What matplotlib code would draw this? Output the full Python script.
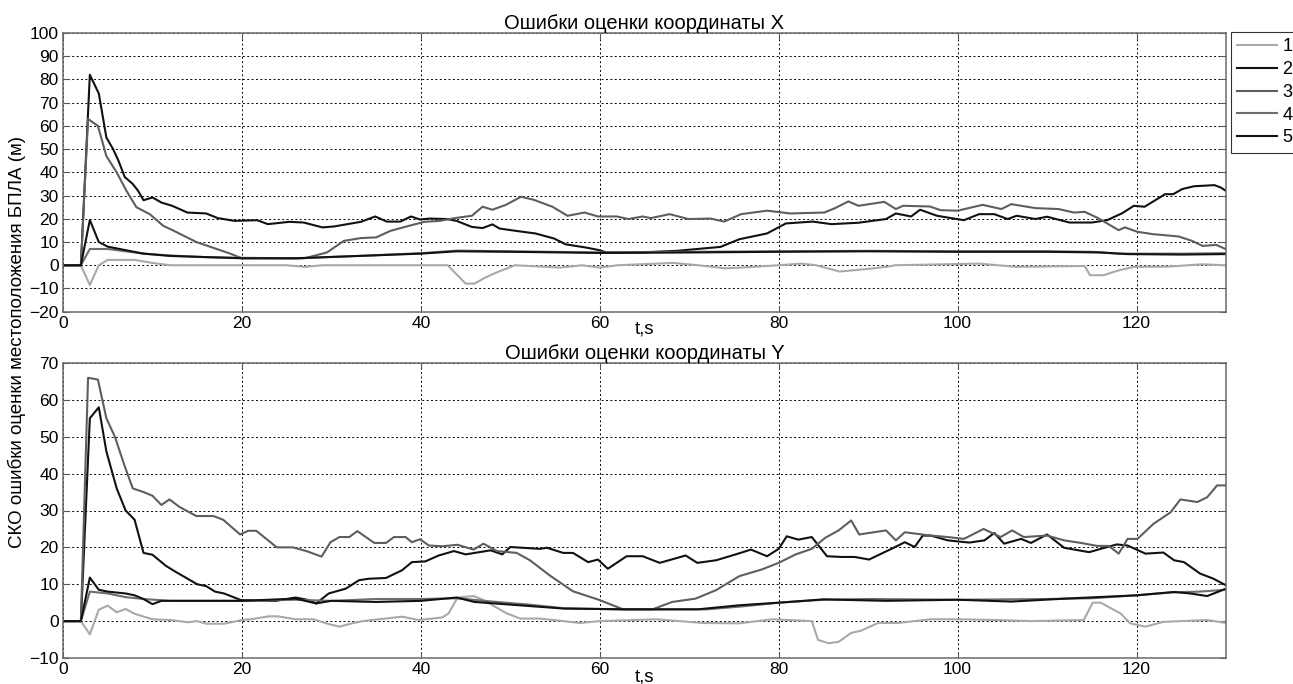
import matplotlib
matplotlib.use("Agg")
import matplotlib.pyplot as plt

plt.rcParams['font.family'] = ['Liberation Sans', 'DejaVu Sans']

# --- данные: (t, значение) ---
# координата X
x_s1 = [(0, 0), (2, 0), (3, -8.5), (4, 0), (5, 2.3), (8, 2.3), (10, 1), (12, 0), (25, 0), (27, -0.7),
        (29, 0), (43, 0), (45, -7.9), (46, -7.9), (47.2, -5.3), (48.4, -3.2), (50.5, 0), (55.6, -1),
        (58, 0), (60, -1), (62, 0), (68.2, 1), (71, 0), (74, -1.3), (75.8, -1), (80, 0), (82.5, 0.7),
        (84.2, 0), (86.8, -2.7), (89.7, -1.7), (92.2, -0.6), (93, 0), (102.4, 0.7), (106.6, -0.7),
        (114.2, -0.3), (114.8, -4.3), (116.3, -4.3), (118, -2.2), (119.7, -0.7), (123.5, -0.6),
        (127.3, 0.4), (130, 0)]
x_s2 = [(0, 0), (2, 0), (3, 82), (4, 74), (4.85, 55), (5.6, 50), (6.2, 45), (6.9, 38), (7.8, 35),
        (8.4, 32), (9, 28), (10, 29.2), (11, 27), (12.2, 25.6), (13.9, 22.7), (16, 22.3), (17.3, 20.3),
        (19.2, 19.1), (21.7, 19.4), (22.9, 17.7), (25.3, 18.7), (26.9, 18.4), (29, 16.3), (30.3, 16.7),
        (33.3, 18.7), (34.9, 21), (36.2, 18.8), (37.7, 18.8), (38.9, 21), (39.9, 19.7), (41, 20.1),
        (42.9, 19.9), (44, 19.1), (45.7, 16.5), (46.9, 16), (48, 17.6), (48.8, 15.8), (51.2, 14.5),
        (52.8, 13.7), (54.9, 11.5), (56.2, 9), (58.5, 7.6), (59.8, 6.6), (60.8, 5.5), (64.4, 5.5),
        (68.6, 6.2), (73.5, 7.9), (75.6, 11.2), (78.7, 13.7), (80.8, 18), (83.8, 18.8), (85.9, 17.7),
        (88.9, 18.3), (92, 19.9), (93.1, 22.3), (94.8, 21), (95.8, 23.9), (97.7, 21.3), (100.7, 19.4),
        (102.4, 22), (104.1, 22), (105.6, 19.9), (106.6, 21.3), (108.7, 19.9), (110, 20.9),
        (112.5, 18.4), (115, 18.4), (116.7, 19.4), (118.4, 22.4), (119.7, 25.6), (120.9, 25.2),
        (123.2, 30.6), (124.1, 30.6), (125.1, 32.8), (126.4, 34), (128.7, 34.5), (129.4, 33.5), (130, 32)]
x_s3 = [(0, 0), (2, 0), (2.8, 63), (3.9, 60), (4.85, 47), (6, 40), (7.1, 32), (8.2, 25), (9.7, 22),
        (11.2, 17), (12.3, 15), (14.9, 10), (16.8, 7.5), (18.7, 5), (20, 3), (25.3, 3), (27, 3),
        (29.5, 5.5), (31.4, 10.5), (33.3, 11.7), (35, 12), (36.6, 14.8), (38.7, 17), (40.4, 18.7),
        (42.1, 19.1), (43.8, 20.3), (45.7, 21.3), (46.9, 25.2), (48, 23.9), (49.5, 26), (51.2, 29.5),
        (52.6, 28.2), (54.7, 25.2), (56.4, 21.3), (58.3, 22.7), (59.8, 21), (61.9, 21), (63.2, 19.9),
        (64.8, 21), (65.7, 20.3), (67.8, 22), (69.9, 19.9), (72.4, 20.1), (73.9, 18.8), (75.8, 22),
        (78.7, 23.5), (81.3, 22.3), (85.1, 22.7), (86.3, 24.6), (87.8, 27.5), (88.9, 25.6),
        (91.8, 27.3), (93.1, 24.2), (93.9, 25.6), (96.9, 25.3), (98.1, 23.7), (100, 23.5), (102.8, 26),
        (104.9, 24.2), (106, 26.3), (108.7, 24.6), (111.3, 24.2), (113, 22.7), (114.2, 23),
        (115.7, 20.3), (118, 15.1), (118.7, 16.3), (120.1, 14.4), (121.8, 13.4), (124.7, 12.4),
        (126.2, 10.5), (127.4, 8.3), (128.9, 8.8), (130, 6.9)]
x_s4 = [(0, 0), (2, 0), (3, 7), (5, 7), (7, 6), (9, 5), (12, 4.2), (16, 3.5), (20, 3.2), (26, 3),
        (33, 4), (40, 5.2), (44, 6.3), (50, 6), (60, 5.5), (70, 5.8), (80, 6), (90, 6.2), (100, 6),
        (110, 6), (115, 5.8), (118, 5), (125, 5), (130, 5.2)]
x_s5 = [(0, 0), (2, 0), (3, 19.5), (4, 10), (5, 8), (7, 6.5), (9, 5), (12, 4), (16, 3.5), (20, 3),
        (26, 3), (33, 4), (40, 5), (44, 6), (50, 5.8), (60, 5.3), (70, 5.5), (80, 5.8), (90, 6),
        (100, 5.8), (110, 5.8), (116, 5.5), (119, 4.8), (125, 4.6), (130, 4.8)]

# координата Y
y_s1 = [(0, 0), (2, 0), (3, -3.6), (4, 3.1), (5, 4.2), (6, 2.4), (7, 3.3), (8, 2), (10, 0.5), (12, 0.3),
        (14, -0.3), (15, 0), (16, -0.7), (18, -0.7), (20, 0.3), (21, 0.5), (23, 1.3), (24, 1.3),
        (26, 0.5), (28, 0.5), (29.7, -0.8), (30.9, -1.5), (32.3, -0.6), (33.5, 0), (37.9, 1.2),
        (39.8, 0.3), (42.4, 1), (43.1, 2.1), (44.1, 6.4), (45.9, 6.8), (47, 5.7), (49.6, 2.1),
        (51.1, 0.7), (53.3, 0.7), (57.8, -0.5), (60, 0), (66.3, 0.5), (71.5, -0.5), (75.6, -0.6),
        (79.3, 0.5), (83.7, 0), (84.4, -5.1), (85.6, -6), (86.7, -5.6), (87, -5.1), (88.1, -3.2),
        (89.2, -2.6), (91.1, -0.5), (93.3, -0.5), (97, 0.5), (100, 0.5), (104.5, 0.3), (108.2, 0),
        (114.1, 0.3), (115.1, 5), (116, 5), (118.2, 2.1), (119.3, -0.6), (121, -1.5), (123, -0.2),
        (127.9, 0.3), (130, -0.5)]
y_s2 = [(0, 0), (2, 0), (3, 55), (4, 58), (4.85, 46), (6, 36), (7, 30), (8, 27.5), (9, 18.5), (10, 18),
        (11.5, 15), (12.5, 13.5), (15, 10), (16, 9.5), (17, 8), (18, 7.5), (19.9, 5.7), (23.8, 5.5),
        (26, 6.4), (27.5, 5.7), (28.3, 4.8), (29.7, 7.5), (31.6, 8.8), (33.1, 11.1), (34.2, 11.5),
        (36.1, 11.7), (37.9, 13.8), (39, 16), (40.5, 16.2), (42, 17.8), (43.7, 19), (45, 18.1),
        (47.8, 19.2), (49.1, 18.1), (50, 20.1), (53.3, 19.6), (54.1, 19.9), (55.9, 18.5), (57, 18.5),
        (58.7, 16), (59.8, 16.7), (60.9, 14.2), (63, 17.6), (64.8, 17.6), (66.7, 15.8), (69.6, 17.8),
        (70.9, 15.8), (73, 16.5), (75.2, 18.1), (76.9, 19.4), (78.7, 17.6), (80, 19.6), (80.9, 23),
        (82.2, 22.1), (83.7, 22.8), (85.4, 17.6), (87, 17.4), (88.5, 17.4), (90.1, 16.7), (92.6, 19.6),
        (94.1, 21.4), (95.2, 20.1), (96.1, 23.2), (97, 23.2), (98.9, 21.9), (101.3, 21.3), (103, 21.9),
        (104.1, 23.9), (105.2, 21), (107.1, 22.3), (108.2, 21.2), (110, 23.5), (111.9, 19.9),
        (114.7, 18.7), (116, 19.6), (117.8, 20.8), (119, 20.5), (121, 18.3), (123, 18.6), (124.2, 16.5),
        (125.3, 16), (127.1, 12.9), (128.6, 11.5), (130, 9.7)]
y_s3 = [(0, 0), (2, 0), (2.8, 66), (3.9, 65.5), (4.85, 55), (5.8, 50), (6.9, 42), (7.8, 36), (9, 35),
        (10, 34), (11, 31.5), (11.9, 33), (13, 31), (14.9, 28.5), (16.8, 28.5), (17.9, 27.5),
        (19.8, 23.5), (20.7, 24.5), (21.6, 24.5), (23.9, 20), (25.7, 20), (27.2, 19), (28.9, 17.5),
        (29.9, 21.4), (30.9, 22.8), (32, 22.8), (32.9, 24.4), (34.8, 21.2), (36.1, 21.2), (37, 22.8),
        (38.3, 22.8), (39, 21.4), (39.9, 22.2), (40.9, 20.5), (42.4, 20.3), (44.1, 20.7), (45.9, 19.4),
        (47, 21), (48.5, 19), (50.7, 18.5), (52.2, 16.5), (54.4, 12.4), (57, 8.1), (60, 5.7), (62.6, 3.2),
        (65.9, 3.2), (68.1, 5.2), (70.7, 6.1), (73, 8.4), (75.6, 12.2), (78.1, 14), (80, 15.8),
        (81.9, 18.1), (83.7, 19.6), (85.2, 22.6), (86.7, 24.6), (88.1, 27.3), (89, 23.5), (92, 24.6),
        (93.1, 21.9), (94.1, 24.1), (97, 23.2), (98.9, 22.8), (100.7, 22.3), (102.9, 25), (104.8, 22.8),
        (106.1, 24.6), (107.4, 22.8), (110, 23.2), (111.9, 21.9), (113.8, 21.2), (115.6, 20.4),
        (116.9, 20.4), (118, 18.3), (119, 22.3), (120.1, 22.3), (121.9, 26.4), (123.8, 29.5),
        (124.9, 33), (126.8, 32.3), (127.9, 33.6), (129, 36.8), (130, 36.8)]
y_s4 = [(0, 0), (2, 0), (3, 8), (5, 7.5), (7, 6.5), (9, 6), (12, 5.5), (20, 5.5), (26, 5.8), (30, 5.5),
        (35, 6), (40, 6), (44, 6.2), (48, 5.3), (52, 4.5), (56, 3.5), (62, 3.2), (72, 3.2), (76, 4),
        (80, 5), (85, 5.8), (90, 6), (100, 5.8), (110, 6), (115, 6.2), (120, 7), (124, 7.8), (127, 8),
        (130, 8.5)]
y_s5 = [(0, 0), (2, 0), (3, 11.8), (4, 8.5), (5, 8), (7, 7.5), (8, 7), (9, 6), (10, 4.6), (11, 5.5),
        (20, 5.5), (26, 6.1), (28.3, 4.8), (30, 5.5), (35, 5.2), (40, 5.5), (44, 6.4), (46, 5.2),
        (51, 4.3), (56, 3.4), (63, 3.2), (71, 3.2), (75.6, 4.3), (80, 5), (85, 5.9), (92, 5.5),
        (100, 5.8), (106, 5.3), (112, 6.1), (120, 7), (124.2, 7.9), (126, 7.5), (127.9, 6.8), (130, 8.8)]

labels = ["1", "2", "3", "4", "5"]
colors = ["#a9a9a9", "#111111", "#5e5e5e", "#6e6e6e", "#111111"]

W, H = 1293, 684
fig = plt.figure(figsize=(W / 100, H / 100), dpi=100)
ax1 = fig.add_axes([63 / W, 1 - 311.7 / H, 1163 / W, 278.7 / H])
ax2 = fig.add_axes([63 / W, 1 - 658 / H, 1163 / W, 295 / H])


def draw(ax, series, title, ylim, yticks, xlab_y):
    lines = []
    for s, c in zip(series, colors):
        t = [p[0] for p in s]
        v = [p[1] for p in s]
        ln, = ax.plot(t, v, color=c, lw=1.5)
        lines.append(ln)
    ax.set_xlim(0, 130)
    ax.set_ylim(*ylim)
    ax.set_xticks(range(0, 121, 20))
    ax.set_yticks(yticks)
    ax.grid(True, color="black", lw=0.7, linestyle=(0, (2, 2.5)))
    ax.tick_params(direction="in", length=4, labelsize=12.5, top=True, right=True,
                   color="#555555", pad=3)
    for sp in ax.spines.values():
        sp.set_color("#6a6a6a")
        sp.set_linewidth(1.1)
    ax.set_title(title, fontsize=14.5, pad=3)
    ax.set_xlabel("t,s", fontsize=13.5)
    ax.xaxis.set_label_coords(0.5, xlab_y)
    return lines


lines = draw(ax1, [x_s1, x_s2, x_s3, x_s4, x_s5], "Ошибки оценки координаты X",
             (-20, 100), range(-20, 101, 10), -0.03)
draw(ax2, [y_s1, y_s2, y_s3, y_s4, y_s5], "Ошибки оценки координаты Y",
     (-10, 70), range(-10, 71, 10), -0.035)

fig.text(17 / W, 1 - 342 / H, "СКО ошибки оценки местоположения БПЛА (м)",
         rotation=90, ha="center", va="center", fontsize=13.5)

leg = fig.legend(lines, labels, loc="upper left", bbox_to_anchor=(1231 / W, 1 - 32 / H),
                 fontsize=13, frameon=True, fancybox=False, handlelength=2.2,
                 handletextpad=0.3, borderpad=0.35, labelspacing=0.32, borderaxespad=0)
leg.get_frame().set_edgecolor("black")
leg.get_frame().set_linewidth(0.8)

fig.savefig("out.png", dpi=100)
